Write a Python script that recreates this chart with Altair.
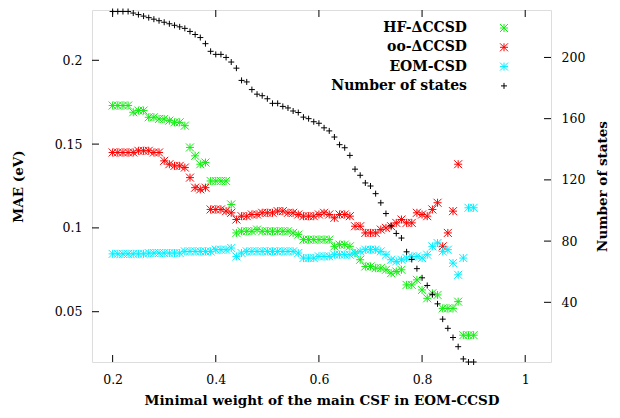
import altair as alt
import pandas as pd

# ---------------- data ----------------
x_vals = [0.20, 0.21, 0.22, 0.23, 0.24, 0.25, 0.26, 0.27, 0.28, 0.29,
          0.30, 0.31, 0.32, 0.33, 0.34, 0.35, 0.36, 0.37, 0.38, 0.39,
          0.40, 0.41, 0.42, 0.43, 0.44, 0.45, 0.46, 0.47, 0.48, 0.49,
          0.50, 0.51, 0.52, 0.53, 0.54, 0.55, 0.56, 0.57, 0.58, 0.59,
          0.60, 0.61, 0.62, 0.63, 0.64, 0.65, 0.66, 0.67, 0.68, 0.69,
          0.70, 0.71, 0.72, 0.73, 0.74, 0.75, 0.76, 0.77, 0.78, 0.79,
          0.80, 0.81, 0.82, 0.83, 0.84, 0.85, 0.86, 0.87, 0.88, 0.89,
          0.90]

hf_dccsd = [0.173, 0.173, 0.173, 0.173, 0.169, 0.170, 0.170, 0.166, 0.166, 0.165,
            0.165, 0.164, 0.163, 0.163, 0.161, 0.148, 0.143, 0.138, 0.139, 0.128,
            0.128, 0.128, 0.128, 0.114, 0.097, 0.098, 0.098, 0.098, 0.099, 0.098,
            0.098, 0.098, 0.098, 0.098, 0.098, 0.097, 0.096, 0.093, 0.093, 0.093,
            0.093, 0.093, 0.093, 0.089, 0.090, 0.090, 0.089, 0.085, 0.081, 0.077,
            0.077, 0.076, 0.076, 0.075, 0.073, 0.074, 0.075, 0.066, 0.066, 0.069,
            0.063, 0.058, 0.061, 0.060, 0.052, 0.052, 0.052, 0.056, 0.036, 0.036,
            0.036]

oo_dccsd = [0.145, 0.145, 0.145, 0.145, 0.145, 0.146, 0.146, 0.146, 0.145, 0.145,
            0.140, 0.138, 0.137, 0.137, 0.136, 0.130, 0.124, 0.123, 0.124, 0.111,
            0.111, 0.111, 0.110, 0.109, 0.105, 0.107, 0.107, 0.108, 0.108, 0.109,
            0.109, 0.109, 0.110, 0.110, 0.109, 0.109, 0.108, 0.107, 0.107, 0.107,
            0.108, 0.109, 0.108, 0.106, 0.108, 0.108, 0.107, 0.101, 0.101, 0.097,
            0.097, 0.097, 0.099, 0.100, 0.101, 0.103, 0.105, 0.103, 0.103, 0.109,
            0.108, 0.107, 0.111, 0.115, 0.089, 0.097, 0.110, 0.138, None, None,
            None]

eom_csd = [0.0845, 0.0845, 0.0845, 0.0845, 0.0845, 0.0845, 0.0845, 0.085, 0.085, 0.085,
           0.085, 0.085, 0.085, 0.085, 0.086, 0.086, 0.086, 0.086, 0.086, 0.086,
           0.087, 0.087, 0.087, 0.088, 0.083, 0.085, 0.086, 0.086, 0.086, 0.086,
           0.086, 0.086, 0.086, 0.086, 0.086, 0.086, 0.085, 0.082, 0.082, 0.082,
           0.083, 0.083, 0.083, 0.084, 0.084, 0.084, 0.084, 0.085, 0.086, 0.087,
           0.087, 0.087, 0.086, 0.084, 0.081, 0.080, 0.081, 0.082, 0.083, 0.083,
           0.082, 0.084, 0.089, 0.091, 0.086, 0.087, 0.079, 0.072, 0.082, 0.112,
           0.112]

n_states = [230, 230, 230, 230, 229, 228, 227, 226, 225, 224,
            223, 222, 221, 220, 219, 217, 215, 213, 209, 204,
            202, 202, 200, 197, 193, 185, 184, 179, 176, 175,
            173, 170, 170, 168, 167, 165, 164, 161, 160, 158,
            157, 154, 152, 148, 143, 141, 136, 127, 123, 118,
            116, 111, 105, 98, 90, 85, 82, 73, 68, 62,
            56, 51, 45, 39, 29, 23, 17, 11, 3, 1,
            1]

series_names = ["HF-ΔCCSD", "oo-ΔCCSD", "EOM-CSD"]
series_colors = ["#11ee11", "#ff0000", "#00eeff"]
states_label = "Number of states"

x_ticks = [0.2, 0.4, 0.6, 0.8, 1.0]
y_ticks = [0.05, 0.1, 0.15, 0.2]
y2_ticks = [40, 80, 120, 160, 200]

# ---------------- layout / style ----------------
W, H = 459, 352
TICK = 7
STAR = "M-1,0L1,0M0,-1L0,1M-1,-1L1,1M-1,1L1,-1"
PLUS = "M-1,0L1,0M0,-1L0,1"
FONT = "DejaVu Serif"

rows = []
for name, vals in zip(series_names, [hf_dccsd, oo_dccsd, eom_csd]):
    for xv, v in zip(x_vals, vals):
        if v is not None:
            rows.append({"x": xv, "mae": v, "series": name})
mae_df = pd.DataFrame(rows)
states_df = pd.DataFrame({"x": x_vals, "n": n_states})
xt_df = pd.DataFrame({"t": x_ticks})
yt_df = pd.DataFrame({"t": y_ticks})
y2t_df = pd.DataFrame({"t": y2_ticks})

xscale = alt.Scale(domain=[0.16, 1.05], nice=False, zero=False)
yscale = alt.Scale(domain=[0.02, 0.23], nice=False, zero=False)
y2scale = alt.Scale(domain=[1, 231], nice=False, zero=False)

x_axis = alt.Axis(values=x_ticks, format="~g", title="Minimal weight of the main CSF in EOM-CCSD",
                  ticks=False, domain=False, grid=False, labelPadding=11, titlePadding=8,
                  labelFont=FONT, labelFontSize=12.5, titleFont=FONT, titleFontSize=13.5,
                  titleFontWeight="bold", labelColor="black", titleColor="black")
y_axis = alt.Axis(values=y_ticks, format="~g", title="MAE (eV)", orient="left",
                  ticks=False, domain=False, grid=False, labelPadding=10, titlePadding=29,
                  labelFont=FONT, labelFontSize=12.5, titleFont=FONT, titleFontSize=13.5,
                  titleFontWeight="bold", labelColor="black", titleColor="black")
y2_axis = alt.Axis(values=y2_ticks, format="d", title=states_label, orient="right",
                   ticks=False, domain=False, grid=False, labelPadding=10, titlePadding=25,
                   titleAngle=270,
                   labelFont=FONT, labelFontSize=12.5, titleFont=FONT, titleFontSize=13.5,
                   titleFontWeight="bold", labelColor="black", titleColor="black")

mae_pts = alt.Chart(mae_df).mark_point(shape=STAR, filled=False, size=64, strokeWidth=1, opacity=1).encode(
    x=alt.X("x:Q", scale=xscale, axis=x_axis),
    y=alt.Y("mae:Q", scale=yscale, axis=y_axis),
    color=alt.Color("series:N", scale=alt.Scale(domain=series_names, range=series_colors), legend=None),
)

bot_ticks = alt.Chart(xt_df).mark_rule(color="black", strokeWidth=1).encode(
    x=alt.X("t:Q", scale=xscale, axis=x_axis), y=alt.value(H), y2=alt.value(H - TICK))
top_ticks = alt.Chart(xt_df).mark_rule(color="black", strokeWidth=1).encode(
    x=alt.X("t:Q", scale=xscale, axis=x_axis), y=alt.value(0), y2=alt.value(TICK))
left_ticks = alt.Chart(yt_df).mark_rule(color="black", strokeWidth=1).encode(
    y=alt.Y("t:Q", scale=yscale, axis=y_axis), x=alt.value(0), x2=alt.value(TICK))

left_layer = alt.layer(mae_pts, bot_ticks, top_ticks, left_ticks)

states_pts = alt.Chart(states_df).mark_point(shape=PLUS, filled=False, size=36, strokeWidth=1,
                                              color="black", opacity=1).encode(
    x=alt.X("x:Q", scale=xscale, axis=x_axis),
    y=alt.Y("n:Q", scale=y2scale, axis=y2_axis),
)
right_ticks = alt.Chart(y2t_df).mark_rule(color="black", strokeWidth=1).encode(
    y=alt.Y("t:Q", scale=y2scale, axis=y2_axis), x=alt.value(W - TICK), x2=alt.value(W))

right_layer = alt.layer(states_pts, right_ticks)

# ---------------- key (gnuplot style: text then sample) ----------------
key_labels = series_names + [states_label]
key_colors = series_colors + ["black"]
key_shapes = [STAR, STAR, STAR, PLUS]
key_sizes = [64, 64, 64, 36]
key_layers = []
for i, (lab, col, shp, sz) in enumerate(zip(key_labels, key_colors, key_shapes, key_sizes)):
    ky = 18 + i * 19.3
    key_layers.append(
        alt.Chart(pd.DataFrame({"label": [lab]})).mark_text(
            align="right", baseline="middle", font=FONT, fontSize=14, fontWeight="bold", color="black"
        ).encode(text="label:N", x=alt.value(375), y=alt.value(ky))
    )
    key_layers.append(
        alt.Chart(pd.DataFrame({"label": [lab]})).mark_point(
            shape=shp, filled=False, size=sz, strokeWidth=1, color=col, opacity=1
        ).encode(x=alt.value(412), y=alt.value(ky))
    )

chart = alt.layer(left_layer, right_layer, *key_layers).resolve_scale(y="independent").properties(
    width=W, height=H,
    autosize=alt.AutoSizeParams(type="none"),
    padding={"left": 84, "top": 2, "right": 61, "bottom": 48},
).configure_view(stroke="black", strokeWidth=1).configure(background="white")

chart.save("out.html", embed_options={"renderer": "svg", "actions": False})
